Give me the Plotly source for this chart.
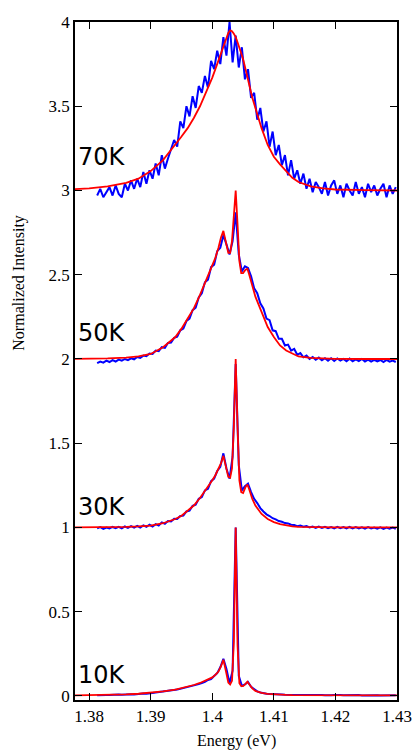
import plotly.graph_objects as go

# ---- fitted curves (red), energy in eV ----
energy_fit = [1.3775, 1.380, 1.383, 1.386, 1.388, 1.390, 1.392, 1.394, 1.395, 1.396,
              1.397, 1.398, 1.399, 1.400, 1.4005, 1.401, 1.4014, 1.4018, 1.4022, 1.4026,
              1.4029, 1.4032, 1.4035, 1.4038, 1.4041, 1.4044, 1.4047, 1.4050, 1.4054, 1.4057,
              1.4060, 1.4065, 1.407, 1.408, 1.409, 1.410, 1.411, 1.412, 1.413, 1.414,
              1.416, 1.418, 1.420, 1.425, 1.430]

fit_10K = [0.003, 0.004, 0.006, 0.009, 0.013, 0.019, 0.027, 0.038, 0.046, 0.055,
           0.065, 0.077, 0.092, 0.110, 0.125, 0.145, 0.175, 0.215, 0.150, 0.080,
           0.068, 0.090, 0.320, 1.000, 0.300, 0.075, 0.058, 0.058, 0.072, 0.085,
           0.070, 0.045, 0.030, 0.018, 0.012, 0.009, 0.007, 0.006, 0.005, 0.005,
           0.004, 0.004, 0.003, 0.003, 0.003]

fit_30K = [1.000, 1.000, 1.001, 1.003, 1.006, 1.011, 1.025, 1.050, 1.070, 1.098,
           1.130, 1.175, 1.225, 1.280, 1.310, 1.345, 1.380, 1.425, 1.370, 1.300,
           1.295, 1.350, 1.600, 2.000, 1.600, 1.280, 1.210, 1.205, 1.240, 1.255,
           1.225, 1.170, 1.130, 1.080, 1.050, 1.032, 1.020, 1.012, 1.007, 1.004,
           1.002, 1.001, 1.000, 1.000, 1.000]

fit_50K = [2.000, 2.000, 2.003, 2.008, 2.016, 2.030, 2.070, 2.130, 2.180, 2.240,
           2.300, 2.380, 2.470, 2.560, 2.600, 2.660, 2.720, 2.760, 2.700, 2.630,
           2.630, 2.700, 2.850, 3.000, 2.800, 2.580, 2.510, 2.510, 2.530, 2.535,
           2.500, 2.430, 2.370, 2.280, 2.190, 2.130, 2.080, 2.050, 2.030, 2.015,
           2.006, 2.003, 2.001, 2.000, 2.000]

fit_70K = [3.008, 3.012, 3.024, 3.045, 3.070, 3.115, 3.180, 3.270, 3.320, 3.370,
           3.430, 3.500, 3.580, 3.670, 3.720, 3.770, 3.820, 3.860, 3.900, 3.935,
           3.950, 3.945, 3.930, 3.910, 3.880, 3.850, 3.810, 3.780, 3.720, 3.670,
           3.620, 3.550, 3.490, 3.370, 3.270, 3.200, 3.155, 3.115, 3.075, 3.050,
           3.025, 3.012, 3.006, 3.002, 3.000]

# ---- measured spectra (blue), evenly sampled energies ----
energy_meas = [round(1.3813 + 0.0005 * i, 4) for i in range(98)]

meas_10K = [0.004, 0.006, 0.004, 0.006, 0.005, 0.007, 0.006, 0.008, 0.007, 0.009,
            0.008, 0.010, 0.009, 0.012, 0.011, 0.014, 0.013, 0.017, 0.018, 0.020,
            0.022, 0.024, 0.027, 0.029, 0.032, 0.035, 0.038, 0.042, 0.046, 0.050,
            0.055, 0.059, 0.064, 0.070, 0.076, 0.083, 0.095, 0.100, 0.118, 0.135,
            0.170, 0.220, 0.160, 0.075, 0.150, 1.000, 0.120, 0.060, 0.068, 0.083,
            0.055, 0.038, 0.027, 0.021, 0.016, 0.013, 0.012, 0.010, 0.009, 0.008,
            0.008, 0.007, 0.006, 0.007, 0.005, 0.006, 0.005, 0.006, 0.004, 0.006,
            0.005, 0.006, 0.004, 0.005, 0.004, 0.006, 0.004, 0.005, 0.003, 0.005,
            0.004, 0.005, 0.003, 0.005, 0.004, 0.005, 0.003, 0.004, 0.003, 0.005,
            0.003, 0.004, 0.003, 0.004, 0.002, 0.004, 0.003, 0.004]

meas_30K = [0.995, 1.002, 0.992, 1.000, 0.994, 1.003, 0.996, 1.004, 0.995, 1.006,
            0.998, 1.008, 0.999, 1.010, 1.000, 1.012, 1.004, 1.016, 1.006, 1.020,
            1.012, 1.030, 1.022, 1.038, 1.036, 1.052, 1.050, 1.068, 1.070, 1.095,
            1.100, 1.128, 1.135, 1.170, 1.180, 1.220, 1.230, 1.275, 1.290, 1.335,
            1.360, 1.440, 1.350, 1.290, 1.420, 1.970, 1.370, 1.220, 1.245, 1.260,
            1.210, 1.170, 1.145, 1.115, 1.095, 1.078, 1.068, 1.055, 1.048, 1.038,
            1.034, 1.026, 1.024, 1.016, 1.015, 1.008, 1.012, 1.004, 1.008, 1.000,
            1.006, 0.998, 1.005, 0.997, 1.004, 0.996, 1.003, 0.995, 1.004, 0.996,
            1.002, 0.994, 1.003, 0.995, 1.002, 0.994, 1.001, 0.993, 1.002, 0.994,
            1.000, 0.993, 1.001, 0.992, 1.000, 0.993, 0.999, 0.992]

meas_50K = [1.975, 1.985, 1.978, 1.990, 1.982, 1.993, 1.985, 1.996, 1.990, 2.000,
            1.993, 2.004, 1.998, 2.012, 2.006, 2.020, 2.016, 2.032, 2.030, 2.050,
            2.046, 2.070, 2.066, 2.095, 2.098, 2.125, 2.132, 2.170, 2.180, 2.225,
            2.240, 2.290, 2.305, 2.365, 2.390, 2.455, 2.470, 2.545, 2.560, 2.640,
            2.660, 2.735, 2.680, 2.620, 2.700, 2.870, 2.620, 2.520, 2.550, 2.540,
            2.490, 2.420, 2.390, 2.330, 2.300, 2.240, 2.230, 2.170, 2.165, 2.120,
            2.120, 2.080, 2.085, 2.050, 2.060, 2.025, 2.035, 2.010, 2.020, 2.000,
            2.012, 1.995, 2.008, 1.992, 2.005, 1.990, 2.004, 1.988, 2.003, 1.990,
            2.000, 1.987, 2.002, 1.986, 1.998, 1.988, 2.000, 1.985, 1.996, 1.984,
            1.995, 1.986, 1.994, 1.982, 1.995, 1.984, 1.990, 1.982]

meas_70K = [2.97, 3.01, 2.96, 2.99, 3.02, 2.97, 3.03, 2.98, 2.96, 3.04,
            3.00, 3.06, 3.01, 3.07, 3.02, 3.11, 3.04, 3.12, 3.07, 3.16,
            3.09, 3.21, 3.13, 3.19, 3.25, 3.30, 3.26, 3.41, 3.37, 3.50,
            3.44, 3.56, 3.49, 3.62, 3.58, 3.68, 3.61, 3.77, 3.72, 3.83,
            3.75, 3.91, 3.80, 4.00, 3.76, 3.92, 3.73, 3.85, 3.66, 3.72,
            3.55, 3.58, 3.42, 3.49, 3.35, 3.41, 3.26, 3.35, 3.21, 3.27,
            3.15, 3.21, 3.09, 3.18, 3.07, 3.12, 3.04, 3.10, 3.01, 3.07,
            2.99, 3.05, 3.02, 2.98, 3.05, 2.97, 3.03, 3.06, 2.98, 3.03,
            2.96, 3.04, 3.00, 2.97, 3.05, 2.98, 3.02, 2.96, 3.04, 2.99,
            3.03, 2.97, 3.01, 3.04, 2.96, 3.03, 2.98, 3.02]

temp_labels = ["10K", "30K", "50K", "70K"]
label_y = [0.123, 1.122, 2.154, 3.198]

x_ticks = [1.38, 1.39, 1.40, 1.41, 1.42, 1.43]
x_ticktext = ["1.38", "1.39", "1.4", "1.41", "1.42", "1.43"]
y_ticks = [0, 0.5, 1, 1.5, 2, 2.5, 3, 3.5, 4]
y_ticktext = ["0", "0.5", "1", "1.5", "2", "2.5", "3", "3.5", "4"]

fig = go.Figure()
for ys in [meas_10K, meas_30K, meas_50K, meas_70K]:
    fig.add_trace(go.Scatter(x=energy_meas, y=ys, mode="lines",
                             line=dict(color="#0000ff", width=2), showlegend=False,
                             hoverinfo="skip"))
for ys in [fit_10K, fit_30K, fit_50K, fit_70K]:
    fig.add_trace(go.Scatter(x=energy_fit, y=ys, mode="lines",
                             line=dict(color="#ff0000", width=1.8), showlegend=False,
                             hoverinfo="skip"))

serif = "Liberation Serif, Times New Roman, serif"
annotations = []
for t, yv in zip(temp_labels, label_y):
    annotations.append(dict(x=1.3778, y=yv, xref="x", yref="y", text=t, showarrow=False,
                            xanchor="left", yanchor="middle",
                            font=dict(family="DejaVu Sans", size=24, color="black")))
annotations.append(dict(x=0.5, y=0, xref="paper", yref="paper", yshift=-41,
                        text="Energy (eV)", showarrow=False, xanchor="center", yanchor="middle",
                        font=dict(family=serif, size=16, color="black")))
annotations.append(dict(x=-0.175, y=0.615, xref="paper", yref="paper", textangle=-90,
                        text="Normalized Intensity", showarrow=False,
                        xanchor="center", yanchor="middle",
                        font=dict(family=serif, size=16, color="black")))

axis_common = dict(showgrid=False, zeroline=False, showline=True, linecolor="black",
                   linewidth=1.5, mirror="ticks", ticks="inside", ticklen=7,
                   tickwidth=1, tickcolor="black", automargin=False,
                   tickfont=dict(family=serif, size=17, color="black"))

fig.update_layout(
    width=412, height=752,
    margin=dict(l=75, r=15, t=22, b=52, autoexpand=False),
    paper_bgcolor="white", plot_bgcolor="white",
    xaxis=dict(range=[1.3777, 1.4300], tickvals=x_ticks, ticktext=x_ticktext, **axis_common),
    yaxis=dict(range=[-0.024, 4.0], tickvals=y_ticks, ticktext=y_ticktext, **axis_common),
    annotations=annotations,
)

fig.write_html("out.html", config={"displayModeBar": False},
               post_script="document.body.style.margin='0';document.body.style.overflow='hidden';")
